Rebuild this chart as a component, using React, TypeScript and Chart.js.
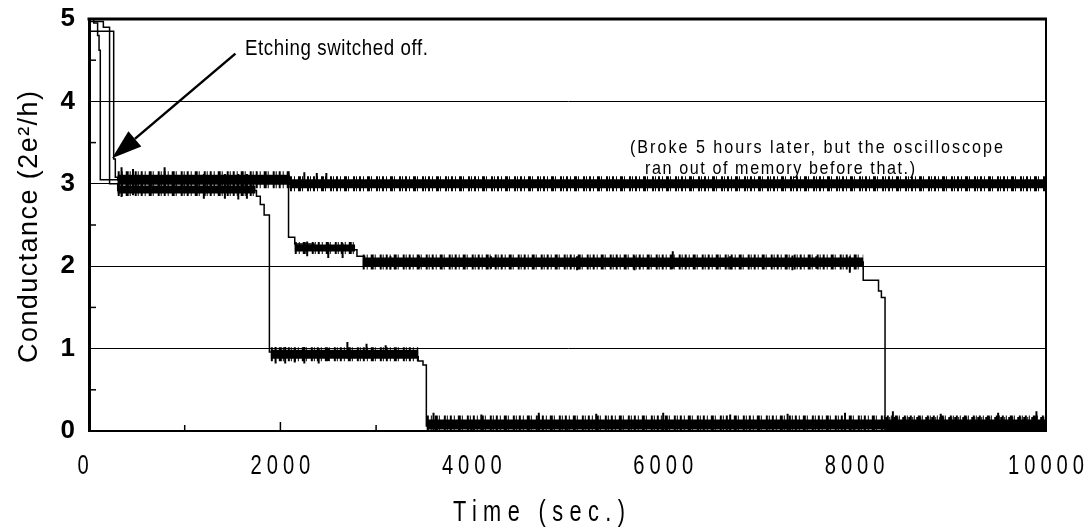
import React, { useEffect, useRef } from 'react';
import { Chart, registerables } from 'chart.js';

Chart.register(...registerables);

// ---- data (time in seconds, conductance in units of 2e^2/h) ----
const traceATime = [0, 50, 90, 105, 118, 2100, 10000];
const traceAValue = [5.0, 4.95, 4.8, 4.62, 3.05, 3.0, 3.0];

const traceBTime = [0, 150, 215, 300, 1750, 1790, 1830, 1885, 1950, 3350, 3440, 3490, 3525, 10000];
const traceBValue = [4.97, 4.9, 3.0, 2.92, 2.85, 2.75, 2.62, 0.96, 0.93, 0.9, 0.85, 0.8, 0.06, 0.06];

const traceCTime = [0, 258, 275, 300, 2085, 2150, 2350, 2800, 2880, 8090, 8250, 8280, 8318, 10000];
const traceCValue = [4.85, 3.3, 3.08, 3.05, 2.35, 2.27, 2.2, 2.12, 2.05, 1.83, 1.7, 1.62, 0.05, 0.05];

// noisy plateaus
const bandStart = [300, 2100, 300, 2150, 2860, 1900, 3530, 8320];
const bandEnd = [2100, 10000, 1740, 2780, 8090, 3440, 10000, 10000];
const bandLevel = [3.05, 3.0, 2.93, 2.22, 2.05, 0.93, 0.08, 0.06];

// larger individual noise spikes
const spikeTime = [340, 460, 790, 1200, 1420, 1560, 1650, 2250, 2380, 2480,
  2280, 2500, 2650, 3150, 3450, 4200, 5100, 5700, 6100, 6700, 7350, 7600, 7950,
  1950, 2050, 2150, 2250, 2400, 2500, 2700, 2900, 3100,
  3600, 4100, 4700, 5300, 6000, 6700, 7300, 7900, 8400, 8900, 9500, 9900];
const spikeLow = [2.84, 2.86, 2.9, 2.82, 2.82, 2.81, 2.82, 2.95, 2.95, 2.95,
  2.12, 2.1, 2.1, 1.96, 1.98, 1.97, 1.95, 1.95, 1.97, 1.96, 1.95, 1.97, 1.92,
  0.82, 0.82, 0.83, 0.82, 0.82, 0.85, 0.88, 0.88, 0.88,
  0.0, 0.0, 0.0, 0.0, 0.0, 0.0, 0.0, 0.0, 0.0, 0.0, 0.0, 0.0];
const spikeHigh = [3.2, 3.18, 3.2, 3.12, 3.12, 3.12, 3.12, 3.14, 3.13, 3.13,
  2.3, 2.28, 2.28, 2.12, 2.12, 2.12, 2.12, 2.13, 2.18, 2.12, 2.13, 2.12, 2.12,
  1.02, 1.02, 1.0, 1.02, 1.0, 1.0, 1.08, 1.06, 1.04,
  0.22, 0.2, 0.22, 0.21, 0.22, 0.2, 0.21, 0.22, 0.24, 0.21, 0.22, 0.24];

const X_MIN = 0, X_MAX = 10000, X_STEP = 2000, X_MINOR = 1000;
const Y_MIN = 0, Y_MAX = 5, Y_STEP = 1, Y_MINOR = 0.5;

const X_TITLE = 'Time (sec.)';
const Y_TITLE = 'Conductance (2e\u00B2/h)';
const NOTE_ETCH = 'Etching switched off.';
const NOTE_BROKE_1 = '(Broke 5 hours later, but the oscilloscope';
const NOTE_BROKE_2 = 'ran out of memory before that.)';

// annotation anchors (data units)
const ETCH_TEXT_AT = { t: 1630, g: 4.64 };
const ARROW_FROM = { t: 1530, g: 4.58 };
const ARROW_TO = { t: 240, g: 3.31 };
const BROKE_1_AT = { t: 5653, g: 3.44 };
const BROKE_2_AT = { t: 5810, g: 3.18 };

// ---- styles ----
const SANS = "'Liberation Sans', Arial, Helvetica, sans-serif";
const BAND_CORE_W = [10, 9, 8, 7, 9, 9, 10, 12];
const BAND_FRINGE_W = [17, 15, 13, 12, 15, 14, 18, 18];

function pts(ts: number[], vs: number[]) {
  return ts.map((t, i) => ({ x: t, y: vs[i] }));
}

// draws text horizontally squeezed by sx, with given visible width (or spacing)
function drawText(ctx: any, text: string, x: number, y: number, font: string, opts: { width?: number; spacing?: number; sx?: number; align: 'left' | 'center' }) {
  const sx = opts.sx ?? 1;
  ctx.save();
  ctx.font = font;
  ctx.letterSpacing = '0px';
  const w0 = ctx.measureText(text).width * sx;
  const gaps = Math.max(1, text.length - 1);
  let sp = opts.spacing ?? 0;
  if (opts.width !== undefined) sp = (opts.width - w0) / gaps;
  const total = w0 + sp * (text.length - 1);
  const start = opts.align === 'center' ? x - total / 2 : x;
  ctx.translate(start, y);
  ctx.scale(sx, 1);
  ctx.letterSpacing = sp / sx + 'px';
  ctx.textAlign = 'left';
  ctx.textBaseline = 'middle';
  ctx.fillText(text, 0, 0);
  ctx.restore();
}

const decor = {
  id: 'decor',
  afterDatasetsDraw(chart: any) {
    const { ctx, chartArea: a, scales } = chart;
    const xs = scales.x, ys = scales.y;
    ctx.save();
    ctx.strokeStyle = '#000';
    ctx.fillStyle = '#000';
    // top and right frame
    ctx.lineWidth = 3;
    ctx.beginPath();
    ctx.moveTo(a.left - 1.5, a.top);
    ctx.lineTo(a.right + 1, a.top);
    ctx.stroke();
    ctx.lineWidth = 2;
    ctx.beginPath();
    ctx.moveTo(a.right, a.top);
    ctx.lineTo(a.right, a.bottom);
    ctx.stroke();
    // minor inward ticks
    ctx.lineWidth = 1.5;
    for (let v = Y_MIN + Y_MINOR; v < Y_MAX; v += Y_STEP) {
      const py = ys.getPixelForValue(v);
      ctx.beginPath();
      ctx.moveTo(a.left, py);
      ctx.lineTo(a.left + 7, py);
      ctx.stroke();
    }
    for (let t = X_MIN + X_MINOR; t < X_MAX; t += X_MINOR) {
      const px = xs.getPixelForValue(t);
      ctx.beginPath();
      ctx.moveTo(px, a.bottom);
      ctx.lineTo(px, a.bottom - (t % X_STEP === 0 ? 9 : 6));
      ctx.stroke();
    }
    // arrow
    const x0 = xs.getPixelForValue(ARROW_FROM.t), y0 = ys.getPixelForValue(ARROW_FROM.g);
    const x1 = xs.getPixelForValue(ARROW_TO.t), y1 = ys.getPixelForValue(ARROW_TO.g);
    const ang = Math.atan2(y1 - y0, x1 - x0);
    const headLen = 30, headHalf = 10;
    const bx = x1 - headLen * Math.cos(ang), by = y1 - headLen * Math.sin(ang);
    ctx.lineWidth = 2.5;
    ctx.beginPath();
    ctx.moveTo(x0, y0);
    ctx.lineTo(bx, by);
    ctx.stroke();
    ctx.beginPath();
    ctx.moveTo(x1, y1);
    ctx.lineTo(bx + headHalf * Math.sin(ang), by - headHalf * Math.cos(ang));
    ctx.lineTo(bx - headHalf * Math.sin(ang), by + headHalf * Math.cos(ang));
    ctx.closePath();
    ctx.fill();
    ctx.restore();
    // notes
    ctx.fillStyle = '#000';
    drawText(ctx, NOTE_ETCH, xs.getPixelForValue(ETCH_TEXT_AT.t), ys.getPixelForValue(ETCH_TEXT_AT.g), `22px ${SANS}`, { width: 183, sx: 0.85, align: 'left' });
    drawText(ctx, NOTE_BROKE_1, xs.getPixelForValue(BROKE_1_AT.t), ys.getPixelForValue(BROKE_1_AT.g), `19px ${SANS}`, { width: 373, sx: 0.85, align: 'left' });
    drawText(ctx, NOTE_BROKE_2, xs.getPixelForValue(BROKE_2_AT.t), ys.getPixelForValue(BROKE_2_AT.g), `19px ${SANS}`, { width: 270, sx: 0.85, align: 'left' });
  },
  afterDraw(chart: any) {
    const { ctx, chartArea: a, scales } = chart;
    const xs = scales.x;
    ctx.save();
    ctx.fillStyle = '#000';
    // x tick labels
    xs.ticks.forEach((tk: any) => {
      drawText(ctx, String(tk.value), xs.getPixelForValue(tk.value) - (tk.value === X_MIN ? 6 : 0), a.bottom + 35, `28px ${SANS}`, { spacing: 5, sx: 0.72, align: 'center' });
    });
    // x title
    drawText(ctx, X_TITLE, 539, 513, `29px ${SANS}`, { width: 172, sx: 0.75, align: 'center' });
    // y title
    ctx.translate(30, (a.top + a.bottom) / 2 + 2);
    ctx.rotate(-Math.PI / 2);
    drawText(ctx, Y_TITLE, 0, 0, `27px ${SANS}`, { width: 272, sx: 1, align: 'center' });
    ctx.restore();
  },
};

export default function App() {
  const ref = useRef<HTMLCanvasElement | null>(null);
  useEffect(() => {
    if (!ref.current) return;
    const datasets: any[] = [];
    const common = { pointRadius: 0, borderColor: '#000', backgroundColor: '#000', tension: 0, spanGaps: false, clip: 1, fill: false };
    bandStart.forEach((s, i) => {
      const d = [{ x: s, y: bandLevel[i] }, { x: bandEnd[i], y: bandLevel[i] }];
      datasets.push({ ...common, data: d, borderWidth: BAND_FRINGE_W[i], borderCapStyle: 'butt', borderDash: [2, 2, 1, 3, 3, 1, 1, 4, 2, 1, 1, 2] });
      datasets.push({ ...common, data: d, borderWidth: BAND_CORE_W[i], borderCapStyle: 'butt' });
    });
    const spikes: any[] = [];
    spikeTime.forEach((t, i) => {
      spikes.push({ x: t, y: spikeLow[i] }, { x: t, y: spikeHigh[i] }, { x: t, y: null });
    });
    datasets.push({ ...common, data: spikes, borderWidth: 2 });
    datasets.push({ ...common, data: pts(traceATime, traceAValue), borderWidth: 1.5, stepped: true });
    datasets.push({ ...common, data: pts(traceBTime, traceBValue), borderWidth: 1.5, stepped: true });
    datasets.push({ ...common, data: pts(traceCTime, traceCValue), borderWidth: 1.5, stepped: true });

    const chart = new Chart(ref.current, {
      type: 'line',
      data: { datasets },
      options: {
        animation: false,
        responsive: false,
        events: [],
        layout: { padding: { top: 0, right: 43, left: 0, bottom: 0 } },
        plugins: { legend: { display: false }, tooltip: { enabled: false } },
        scales: {
          x: {
            type: 'linear', min: X_MIN, max: X_MAX,
            afterFit: (s: any) => { s.height = 100; },
            grid: { display: false, drawTicks: false },
            border: { display: true, color: '#000', width: 2 },
            ticks: { stepSize: X_STEP, display: false, autoSkip: false },
          },
          y: {
            type: 'linear', min: Y_MIN, max: Y_MAX,
            afterFit: (s: any) => { s.width = 89; },
            grid: { color: '#000', lineWidth: 1, drawTicks: false },
            border: { display: true, color: '#000', width: 3 },
            ticks: { stepSize: Y_STEP, font: { family: SANS, size: 26, weight: 'bold', lineHeight: 0.385 }, color: '#000', padding: 14 },
          },
        },
      } as any,
      plugins: [decor],
    });
    return () => chart.destroy();
  }, []);
  return (
    <div style={{ position: 'absolute', left: 0, top: 0, width: 1089, height: 531, background: '#fff' }}>
      <canvas ref={ref} width={1089} height={531} />
    </div>
  );
}
